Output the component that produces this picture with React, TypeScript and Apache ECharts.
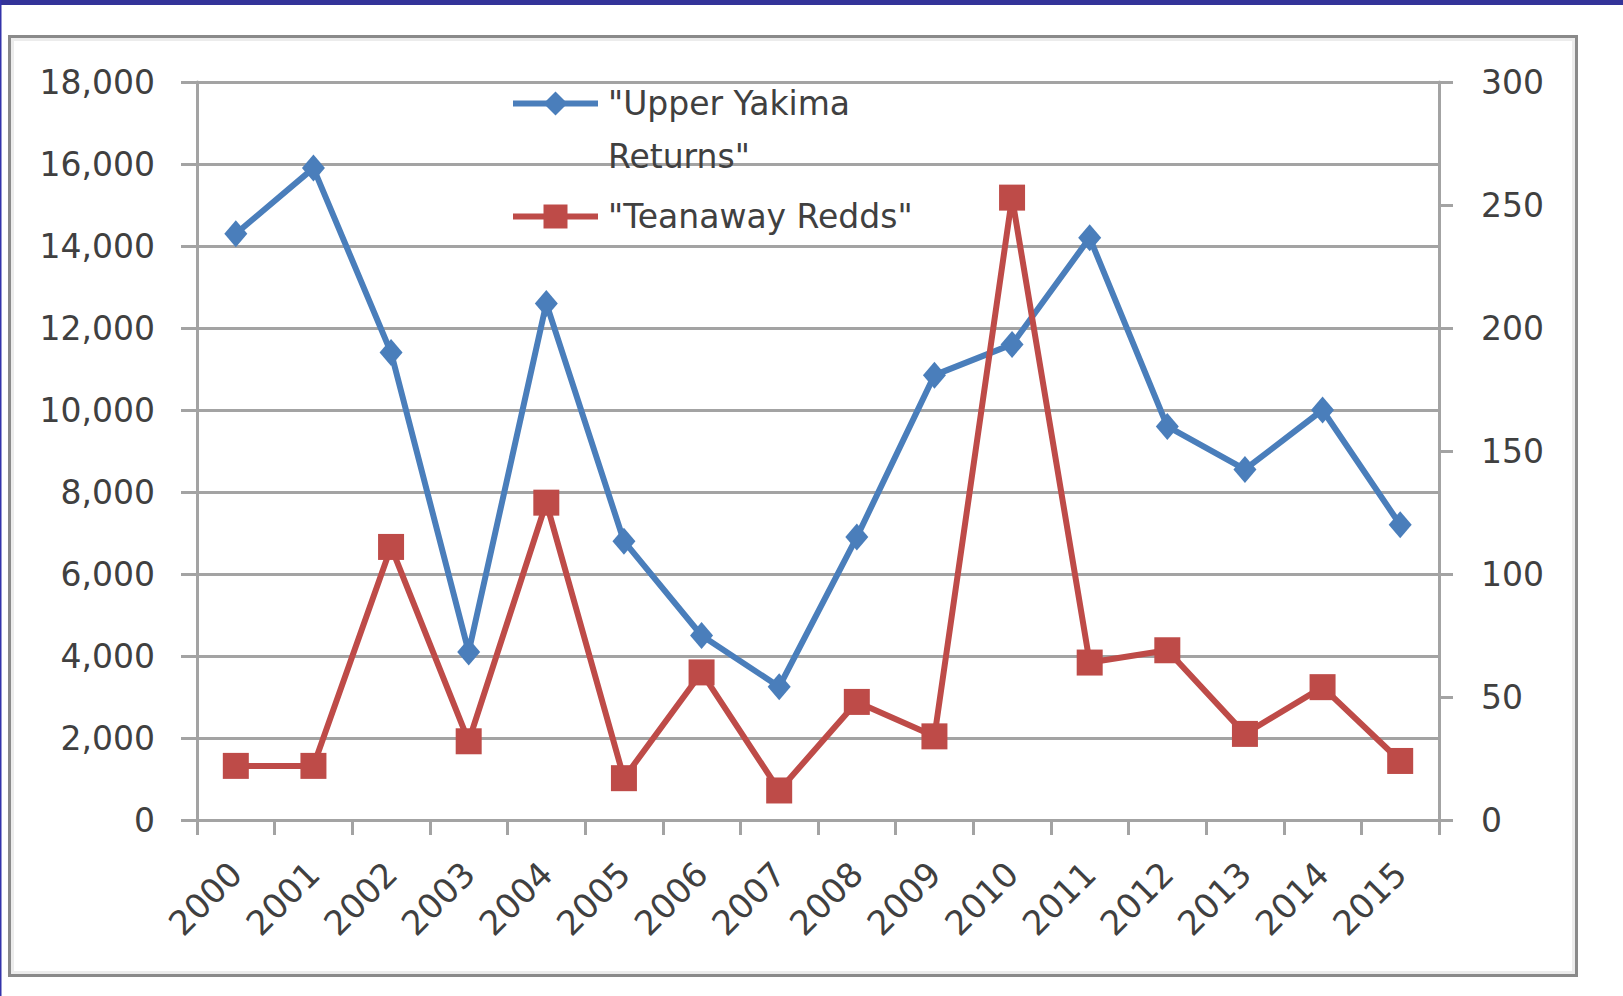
import React, { useEffect, useRef } from "react";
import * as echarts from "echarts";

const years = ["2000","2001","2002","2003","2004","2005","2006","2007","2008","2009","2010","2011","2012","2013","2014","2015"];
const upperYakimaReturns = [14300, 15900, 11400, 4100, 12600, 6800, 4500, 3250, 6900, 10850, 11600, 14200, 9600, 8550, 10000, 7200];
const teanawayRedds = [22, 22, 111, 32, 129, 17, 60, 12, 48, 34, 253, 64, 69, 35, 54, 24];
const seriesNames = ['"Upper Yakima Returns"', '"Teanaway Redds"'];

const FONT = "DejaVu Sans";
const TXT = "#404040";
const GRID = "#a3a3a3";

export default function App() {
  const ref = useRef<HTMLDivElement>(null);
  useEffect(() => {
    document.body.style.margin = "0";
    const chart = echarts.init(ref.current!, null, { renderer: "svg" });
    chart.setOption({
      animation: false,
      backgroundColor: "#ffffff",
      graphic: [
        { type: "rect", z: -10, shape: { x: 0, y: 0, width: 1623, height: 5 }, style: { fill: "#333399" } },
        { type: "rect", z: -10, shape: { x: 0, y: 0, width: 1.5, height: 996 }, style: { fill: "#3333aa" } },
        { type: "rect", z: -10, shape: { x: 9.5, y: 36.5, width: 1567, height: 939 }, style: { fill: "#ffffff", stroke: "#8a8a8a", lineWidth: 3 } },
        { type: "rect", z: -9, shape: { x: 12.5, y: 39.5, width: 1561, height: 933 }, style: { fill: "none", stroke: "#ececec", lineWidth: 3 } },
      ],
      legend: {
        data: seriesNames,
        orient: "vertical",
        left: 510,
        top: 24,
        padding: 0,
        itemGap: 7,
        itemWidth: 85,
        itemHeight: 30,
        lineStyle: { width: 6 },
        formatter: (name: string) => (name === seriesNames[0] ? '\n"Upper Yakima\nReturns"' : name),
        textStyle: { fontFamily: FONT, fontSize: 33, color: TXT, lineHeight: 53, padding: [0, 0, 0, 5] },
      },
      grid: { left: 197, right: 184, top: 82, bottom: 176, containLabel: false },
      xAxis: {
        type: "category",
        data: years,
        boundaryGap: true,
        axisLine: { show: true, lineStyle: { color: GRID, width: 3 } },
        axisTick: { show: true, length: 15, lineStyle: { color: GRID, width: 3 } },
        axisLabel: { rotate: 45, margin: 48, fontFamily: FONT, fontSize: 34, color: TXT },
      },
      yAxis: [
        {
          type: "value",
          min: 0,
          max: 18000,
          interval: 2000,
          axisLine: { show: true, lineStyle: { color: GRID, width: 3 } },
          axisTick: { show: true, length: 16, lineStyle: { color: GRID, width: 3 } },
          axisLabel: {
            margin: 42,
            fontFamily: FONT,
            fontSize: 33,
            color: TXT,
            formatter: (v: number) => v.toLocaleString("en-US"),
          },
          splitLine: { show: true, lineStyle: { color: GRID, width: 3 } },
        },
        {
          type: "value",
          min: 0,
          max: 300,
          interval: 50,
          position: "right",
          axisLine: { show: true, lineStyle: { color: GRID, width: 3 } },
          axisTick: { show: true, length: 14, lineStyle: { color: GRID, width: 3 } },
          axisLabel: { margin: 42, fontFamily: FONT, fontSize: 33, color: TXT },
          splitLine: { show: false },
        },
      ],
      series: [
        {
          name: seriesNames[0],
          type: "line",
          yAxisIndex: 0,
          data: upperYakimaReturns,
          color: "#4a7ebb",
          lineStyle: { width: 6, color: "#4a7ebb" },
          symbol: "diamond",
          symbolSize: [23, 27],
          itemStyle: { color: "#4a7ebb" },
          z: 3,
        },
        {
          name: seriesNames[1],
          type: "line",
          yAxisIndex: 1,
          data: teanawayRedds,
          color: "#be4b48",
          lineStyle: { width: 6, color: "#be4b48" },
          symbol: "rect",
          symbolSize: 26,
          itemStyle: { color: "#be4b48" },
          z: 4,
        },
      ],
    });
    return () => chart.dispose();
  }, []);
  return <div ref={ref} style={{ width: 1623, height: 996 }} />;
}
